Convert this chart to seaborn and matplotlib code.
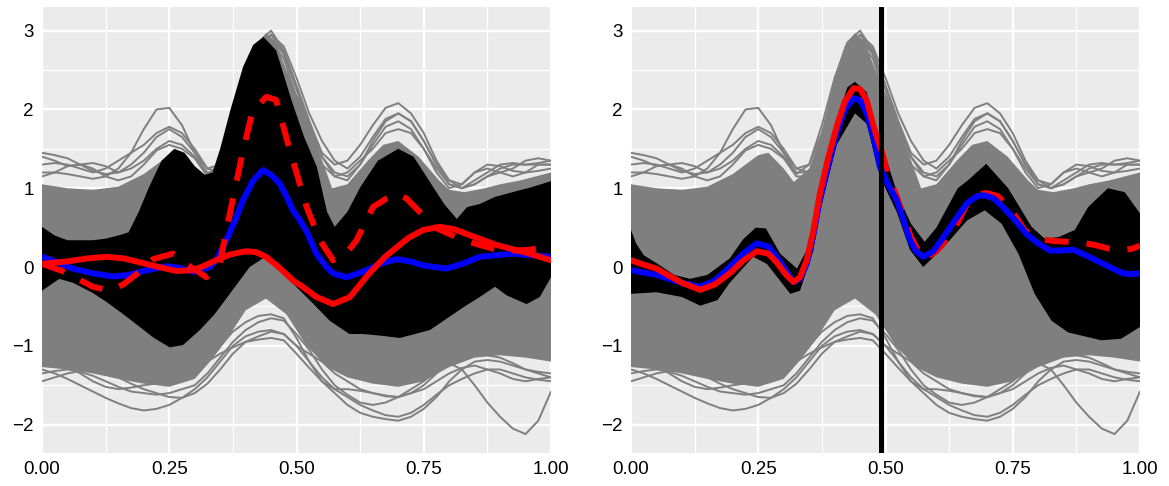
import numpy as np
import pandas as pd
from matplotlib import pyplot as plt
import seaborn as sns

# ---- dados ----
# massa densa das curvas cinzas (borda de cima e de baixo)
gu_x = [0, 0.05, 0.1, 0.15, 0.2, 0.25, 0.27, 0.3, 0.32, 0.35, 0.375, 0.4, 0.42, 0.44, 0.46, 0.48,
        0.5, 0.52, 0.545, 0.57, 0.6, 0.64, 0.67, 0.7, 0.74, 0.78, 0.8, 0.83, 0.87, 0.9, 0.94, 1.0]
gu_y = [1.05, 1.0, 0.98, 1.02, 1.18, 1.42, 1.45, 1.25, 1.08, 1.25, 1.7, 2.4, 2.8, 2.97, 2.85, 2.5,
        2.2, 1.95, 1.45, 1.0, 1.05, 1.35, 1.55, 1.6, 1.4, 1.1, 0.98, 0.95, 1.0, 1.05, 1.1, 1.2]
gl_x = [0, 0.05, 0.1, 0.15, 0.2, 0.25, 0.3, 0.33, 0.36, 0.4, 0.44, 0.48, 0.52, 0.56, 0.6, 0.65,
        0.7, 0.75, 0.8, 0.85, 0.9, 0.95, 1.0]
gl_y = [-1.27, -1.3, -1.35, -1.42, -1.48, -1.52, -1.42, -1.2, -0.95, -0.55, -0.4, -0.6, -1.0, -1.27,
        -1.4, -1.48, -1.52, -1.45, -1.27, -1.15, -1.12, -1.15, -1.2]

# curvas cinzas individuais (as que escapam da massa), grade de 0.025
xg = [i / 40 for i in range(41)]
cinzas = {
    'u1': [1.2, 1.2, 1.18, 1.15, 1.12, 1.15, 1.25, 1.45, 1.75, 2.0, 2.02, 1.8, 1.45, 1.18, 1.3, 1.8, 2.4,
           2.85, 3.0, 2.75, 2.3, 1.85, 1.45, 1.3, 1.35, 1.55, 1.8, 2.02, 2.08, 1.95, 1.7, 1.35, 1.1,
           1.05, 1.2, 1.3, 1.28, 1.22, 1.2, 1.22, 1.25],
    'u2': [1.45, 1.42, 1.38, 1.3, 1.22, 1.18, 1.2, 1.3, 1.45, 1.65, 1.75, 1.65, 1.45, 1.25, 1.3, 1.7, 2.3,
           2.75, 2.95, 2.8, 2.4, 1.95, 1.6, 1.35, 1.25, 1.4, 1.65, 1.88, 1.95, 1.85, 1.6, 1.3, 1.1,
           1.0, 1.05, 1.15, 1.25, 1.3, 1.3, 1.32, 1.35],
    'u3': [1.4, 1.35, 1.28, 1.3, 1.32, 1.28, 1.2, 1.25, 1.35, 1.5, 1.6, 1.55, 1.4, 1.2, 1.2, 1.6, 2.2,
           2.7, 2.9, 2.7, 2.25, 1.8, 1.4, 1.15, 1.1, 1.3, 1.55, 1.78, 1.85, 1.75, 1.5, 1.2, 1.0,
           1.05, 1.2, 1.25, 1.2, 1.15, 1.2, 1.3, 1.3],
    'u4': [1.15, 1.2, 1.28, 1.3, 1.25, 1.15, 1.1, 1.15, 1.3, 1.48, 1.55, 1.5, 1.38, 1.15, 1.15, 1.55, 2.1,
           2.6, 2.85, 2.65, 2.15, 1.65, 1.3, 1.15, 1.2, 1.35, 1.5, 1.7, 1.75, 1.7, 1.5, 1.25, 1.05,
           1.0, 1.1, 1.2, 1.3, 1.32, 1.3, 1.3, 1.3],
    'u5': [1.3, 1.32, 1.3, 1.25, 1.2, 1.25, 1.35, 1.45, 1.55, 1.7, 1.78, 1.7, 1.5, 1.25, 1.2, 1.6, 2.25,
           2.78, 2.95, 2.72, 2.3, 1.85, 1.4, 1.2, 1.15, 1.3, 1.6, 1.85, 1.95, 1.85, 1.6, 1.3, 1.05,
           1.0, 1.05, 1.15, 1.2, 1.25, 1.35, 1.38, 1.35],
    'l1': [-1.35, -1.32, -1.3, -1.33, -1.38, -1.45, -1.52, -1.58, -1.6, -1.62, -1.6, -1.55, -1.5, -1.35,
           -1.15, -0.95, -0.8, -0.7, -0.65, -0.68, -0.85, -1.05, -1.3, -1.5, -1.62, -1.72, -1.75, -1.72,
           -1.65, -1.55, -1.45, -1.3, -1.22, -1.3, -1.5, -1.72, -1.9, -2.05, -2.12, -1.95, -1.58],
    'l2': [-1.3, -1.35, -1.42, -1.5, -1.58, -1.66, -1.73, -1.79, -1.82, -1.8, -1.75, -1.66, -1.55, -1.4,
           -1.2, -1.0, -0.88, -0.82, -0.8, -0.85, -1.0, -1.2, -1.4, -1.55, -1.65, -1.75, -1.82, -1.88,
           -1.9, -1.85, -1.75, -1.62, -1.5, -1.42, -1.35, -1.3, -1.3, -1.35, -1.4, -1.43, -1.45],
    'l3': [-1.45, -1.4, -1.35, -1.32, -1.3, -1.33, -1.4, -1.48, -1.55, -1.6, -1.65, -1.66, -1.6, -1.48,
           -1.3, -1.1, -0.95, -0.92, -0.9, -0.93, -1.1, -1.28, -1.45, -1.6, -1.75, -1.85, -1.9, -1.93,
           -1.95, -1.9, -1.8, -1.65, -1.45, -1.3, -1.2, -1.18, -1.2, -1.25, -1.3, -1.35, -1.4],
    'l4': [-1.2, -1.22, -1.25, -1.35, -1.45, -1.52, -1.55, -1.53, -1.5, -1.48, -1.45, -1.42, -1.35, -1.2,
           -1.0, -0.82, -0.7, -0.62, -0.6, -0.65, -0.9, -1.2, -1.45, -1.55, -1.55, -1.57, -1.6, -1.63,
           -1.65, -1.6, -1.55, -1.45, -1.35, -1.28, -1.25, -1.3, -1.35, -1.42, -1.45, -1.42, -1.4],
    'l5': [-1.0, -1.02, -1.05, -1.12, -1.2, -1.25, -1.3, -1.33, -1.35, -1.38, -1.4, -1.37, -1.3, -1.2,
           -1.1, -1.02, -0.95, -0.88, -0.82, -0.85, -1.0, -1.1, -1.2, -1.35, -1.45, -1.55, -1.6, -1.64,
           -1.65, -1.6, -1.5, -1.35, -1.2, -1.12, -1.1, -1.12, -1.15, -1.22, -1.3, -1.33, -1.35],
}

# painel esquerdo: banda preta, media (azul), curvas vermelhas
esq_sup_x = [0, 0.025, 0.05, 0.1, 0.125, 0.15, 0.17, 0.19, 0.21, 0.235, 0.26, 0.28, 0.3, 0.32, 0.335, 0.35,
             0.37, 0.395, 0.415, 0.435, 0.46, 0.49, 0.515, 0.54, 0.56, 0.575, 0.6, 0.625, 0.66, 0.7, 0.73,
             0.76, 0.79, 0.815, 0.835, 0.86, 0.89, 0.93, 0.96, 1.0]
esq_sup_y = [0.51, 0.4, 0.34, 0.34, 0.36, 0.4, 0.44, 0.7, 1.01, 1.35, 1.5, 1.45, 1.28, 1.17, 1.2, 1.5,
             1.99, 2.54, 2.82, 2.92, 2.75, 2.12, 1.65, 1.27, 0.7, 0.51, 0.7, 1.01, 1.35, 1.5, 1.4,
             1.1, 0.8, 0.61, 0.76, 0.8, 0.89, 0.96, 1.01, 1.09]
esq_inf_x = [0, 0.034, 0.061, 0.1, 0.126, 0.16, 0.192, 0.22, 0.251, 0.277, 0.31, 0.339, 0.369, 0.408,
             0.434, 0.461, 0.493, 0.526, 0.565, 0.604, 0.63, 0.664, 0.703, 0.762, 0.828, 0.86, 0.89,
             0.913, 0.952, 0.978, 1.0]
esq_inf_y = [-0.3, -0.15, -0.2, -0.33, -0.44, -0.6, -0.76, -0.9, -1.02, -0.99, -0.8, -0.6, -0.34, 0.0,
             0.11, 0.05, -0.21, -0.42, -0.68, -0.85, -0.85, -0.87, -0.9, -0.8, -0.51, -0.38, -0.25,
             -0.36, -0.47, -0.38, -0.13]
esq_azul_x = [0, 0.03, 0.061, 0.1, 0.139, 0.17, 0.2, 0.244, 0.27, 0.297, 0.33, 0.345, 0.362, 0.38, 0.395,
              0.415, 0.434, 0.45, 0.467, 0.48, 0.493, 0.506, 0.52, 0.539, 0.559, 0.572, 0.598, 0.63,
              0.664, 0.697, 0.725, 0.749, 0.795, 0.83, 0.86, 0.925, 0.96, 1.0]
esq_azul_y = [0.13, 0.06, -0.02, -0.08, -0.12, -0.1, -0.05, 0.01, -0.01, -0.06, 0.0, 0.12, 0.34, 0.6, 0.85,
              1.1, 1.23, 1.17, 1.06, 0.9, 0.72, 0.6, 0.45, 0.17, 0.0, -0.08, -0.13, -0.06,
              0.04, 0.1, 0.07, 0.02, -0.02, 0.05, 0.13, 0.17, 0.15, 0.13]
esq_verm_x = [0, 0.048, 0.09, 0.126, 0.16, 0.192, 0.23, 0.264, 0.297, 0.32, 0.343, 0.37, 0.4, 0.42, 0.44,
              0.465, 0.493, 0.512, 0.539, 0.572, 0.605, 0.643, 0.674, 0.697, 0.72, 0.749, 0.782, 0.81,
              0.834, 0.893, 0.958, 1.0]
esq_verm_y = [0.04, 0.07, 0.11, 0.13, 0.11, 0.06, 0.0, -0.05, -0.04, 0.02, 0.09, 0.16, 0.2, 0.19, 0.13,
              0.0, -0.17, -0.25, -0.38, -0.47, -0.38, -0.08, 0.13, 0.25, 0.37, 0.47, 0.51, 0.48,
              0.42, 0.28, 0.17, 0.085]
esq_trac_x = [0, 0.04, 0.07, 0.1, 0.133, 0.16, 0.192, 0.218, 0.257, 0.283, 0.323, 0.349, 0.369, 0.395,
              0.414, 0.441, 0.46, 0.487, 0.52, 0.546, 0.572, 0.595, 0.618, 0.65, 0.677, 0.697, 0.716,
              0.745, 0.769, 0.8, 0.828, 0.86, 0.893, 0.93, 0.959, 0.978, 1.0]
esq_trac_y = [0.04, -0.05, -0.15, -0.25, -0.3, -0.22, -0.06, 0.1, 0.17, 0.04, -0.13, 0.04, 0.68, 1.48,
              1.99, 2.16, 2.12, 1.48, 0.76, 0.34, 0.085, 0.15, 0.34, 0.76, 0.87, 0.93, 0.87,
              0.68, 0.51, 0.42, 0.34, 0.28, 0.22, 0.21, 0.22, 0.24, 0.22]

# painel direito
dir_sup_x = [0, 0.01, 0.025, 0.05, 0.085, 0.116, 0.15, 0.194, 0.22, 0.245, 0.265, 0.293, 0.326, 0.352,
             0.371, 0.404, 0.425, 0.44, 0.463, 0.483, 0.5, 0.525, 0.55, 0.577, 0.6, 0.642, 0.662, 0.698,
             0.741, 0.787, 0.813, 0.84, 0.872, 0.898, 0.937, 0.97, 1.0]
dir_sup_y = [0.47, 0.3, 0.15, 0.05, -0.1, -0.15, -0.1, 0.11, 0.35, 0.5, 0.49, 0.17, -0.02, 0.3,
             1.0, 1.86, 2.28, 2.35, 2.22, 1.72, 1.4, 0.9, 0.55, 0.32, 0.5, 1.0, 1.1, 1.31,
             1.0, 0.51, 0.36, 0.38, 0.47, 0.76, 1.0, 0.95, 0.68]
dir_inf_x = [0, 0.05, 0.1, 0.136, 0.17, 0.194, 0.24, 0.267, 0.29, 0.313, 0.332, 0.358, 0.371, 0.404,
             0.44, 0.463, 0.489, 0.522, 0.548, 0.574, 0.614, 0.66, 0.695, 0.728, 0.761, 0.793, 0.826,
             0.859, 0.924, 0.963, 1.0]
dir_inf_y = [-0.34, -0.32, -0.38, -0.49, -0.42, -0.2, 0.13, 0.04, -0.15, -0.34, -0.3, 0.2, 0.7, 1.55,
             1.95, 1.82, 1.15, 0.7, 0.22, 0.0, 0.25, 0.59, 0.72, 0.55, 0.17, -0.34, -0.68,
             -0.83, -0.93, -0.91, -0.76]
dir_azul_x = [0, 0.05, 0.1, 0.136, 0.165, 0.194, 0.22, 0.247, 0.27, 0.286, 0.305, 0.319, 0.332, 0.345,
              0.358, 0.371, 0.388, 0.404, 0.42, 0.437, 0.45, 0.463, 0.476, 0.489, 0.505, 0.522, 0.535,
              0.548, 0.56, 0.574, 0.594, 0.614, 0.637, 0.66, 0.68, 0.695, 0.713, 0.731, 0.754, 0.777,
              0.8, 0.823, 0.846, 0.869, 0.9, 0.928, 0.95, 0.967, 0.985, 1.0]
dir_azul_y = [-0.04, -0.1, -0.2, -0.25, -0.17, 0.0, 0.17, 0.3, 0.26, 0.13, -0.05, -0.19, -0.15, 0.04,
              0.4, 0.85, 1.3, 1.69, 2.0, 2.14, 2.12, 1.95, 1.65, 1.27, 1.05, 0.85, 0.6,
              0.34, 0.2, 0.13, 0.2, 0.38, 0.6, 0.81, 0.9, 0.91, 0.87, 0.76, 0.6, 0.42,
              0.3, 0.21, 0.21, 0.22, 0.13, 0.04, -0.03, -0.08, -0.09, -0.08]
dir_verm_x = [0, 0.025, 0.05, 0.1, 0.136, 0.165, 0.194, 0.22, 0.247, 0.27, 0.286, 0.305, 0.319, 0.332,
              0.345, 0.358, 0.371, 0.388, 0.404, 0.42, 0.437, 0.45, 0.463, 0.476, 0.483, 0.491, 0.5]
dir_verm_y = [0.085, 0.03, -0.02, -0.2, -0.29, -0.22, -0.08, 0.08, 0.2, 0.17, 0.06, -0.1, -0.19, -0.13,
              0.085, 0.45, 0.93, 1.4, 1.78, 2.1, 2.27, 2.26, 2.12, 1.8, 1.65, 1.5, 1.3]
dir_trac_x = [0.49, 0.505, 0.522, 0.535, 0.55, 0.574, 0.6, 0.633, 0.66, 0.675, 0.698, 0.721, 0.75, 0.773,
              0.8, 0.83, 0.859, 0.885, 0.911, 0.935, 0.957, 0.983, 1.0]
dir_trac_y = [1.5, 1.15, 0.9, 0.65, 0.38, 0.1, 0.2, 0.45, 0.8, 0.91, 0.94, 0.9, 0.7, 0.47,
              0.36, 0.33, 0.32, 0.31, 0.28, 0.24, 0.21, 0.23, 0.27]
corte = 0.491  # linha vertical do painel direito

xticks = [0, 0.25, 0.5, 0.75, 1.0]
xtick_labels = ['0.00', '0.25', '0.50', '0.75', '1.00']
yticks = [-2, -1, 0, 1, 2, 3]
ytick_labels = ['\u22122', '\u22121', '0', '1', '2', '3']

CINZA = '#7F7F7F'

# tabela longa das curvas cinzas p/ o seaborn
linhas = []
for nome, vals in cinzas.items():
    for xv, yv in zip(xg, vals):
        linhas.append({'curva': nome, 'x': xv, 'y': yv})
df_cinza = pd.DataFrame(linhas)

sns.set_theme(style='darkgrid', rc={'axes.facecolor': '#EBEBEB', 'grid.color': 'white'})
plt.rcParams['font.family'] = ['Liberation Sans', 'DejaVu Sans']


def painel(ax, sup_x, sup_y, inf_x, inf_y):
    '''Desenha fundo cinza + banda preta'''
    ax.fill(np.r_[gu_x, gl_x[::-1]], np.r_[gu_y, gl_y[::-1]], color=CINZA, lw=0, zorder=1)
    sns.lineplot(data=df_cinza, x='x', y='y', units='curva', estimator=None, color=CINZA,
                 lw=1.4, ax=ax, legend=False, zorder=2)
    ax.fill(np.r_[sup_x, inf_x[::-1]], np.r_[sup_y, inf_y[::-1]], color='black', lw=0, zorder=3)


fig, axs = plt.subplots(1, 2, figsize=(11.69, 4.86), dpi=100)
ax1, ax2 = axs

painel(ax1, esq_sup_x, esq_sup_y, esq_inf_x, esq_inf_y)
sns.lineplot(x=esq_azul_x, y=esq_azul_y, ax=ax1, color='#0000FF', lw=4.3, zorder=4)
sns.lineplot(x=esq_trac_x, y=esq_trac_y, ax=ax1, color='#FF0000', lw=4.3, dashes=(4, 3), zorder=5)
sns.lineplot(x=esq_verm_x, y=esq_verm_y, ax=ax1, color='#FF0000', lw=4.3, zorder=6)

painel(ax2, dir_sup_x, dir_sup_y, dir_inf_x, dir_inf_y)
sns.lineplot(x=dir_trac_x, y=dir_trac_y, ax=ax2, color='#FF0000', lw=4.3, dashes=(4, 3), zorder=4)
sns.lineplot(x=dir_azul_x, y=dir_azul_y, ax=ax2, color='#0000FF', lw=4.3, zorder=5)
sns.lineplot(x=dir_verm_x, y=dir_verm_y, ax=ax2, color='#FF0000', lw=4.3, zorder=6)
ax2.axvline(corte, color='black', lw=3.6, zorder=7)

for ax in axs:
    ax.set_xlim(0, 1)
    ax.set_ylim(-2.36, 3.30)
    ax.set_xticks(xticks)
    ax.set_xticklabels(xtick_labels)
    ax.set_yticks(yticks)
    ax.set_yticklabels(ytick_labels)
    ax.set_xticks([0.125, 0.375, 0.625, 0.875], minor=True)
    ax.set_yticks([-1.5, -0.5, 0.5, 1.5, 2.5], minor=True)
    ax.grid(which='major', color='white', lw=1.7)
    ax.grid(which='minor', color='white', lw=0.9)
    ax.set_axisbelow(True)
    ax.set_xlabel('')
    ax.set_ylabel('')
    ax.tick_params(which='both', length=0, labelsize=13.5, labelcolor='black', pad=6)
    for s in ax.spines.values():
        s.set_visible(False)

ax1.set_position([42 / 1169, 1 - 453 / 486, 509 / 1169, 446 / 486])
ax2.set_position([631 / 1169, 1 - 453 / 486, 509 / 1169, 446 / 486])

plt.savefig('out.png', dpi=100)
